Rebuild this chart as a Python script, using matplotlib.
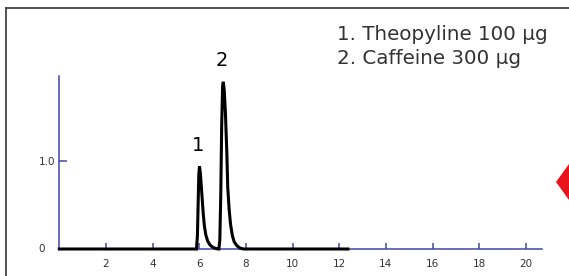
import matplotlib
matplotlib.use("Agg")
import matplotlib.pyplot as plt
from matplotlib.lines import Line2D
from matplotlib.patches import Polygon

# Chromatogram trace (time in min, response)
time = [0.0, 5.88, 5.92, 5.95, 5.98, 6.01, 6.05, 6.09, 6.13, 6.17, 6.22, 6.28,
        6.36, 6.45, 6.55, 6.68, 6.80,
        6.84, 6.88, 6.92, 6.96, 7.00, 7.03, 7.07, 7.12, 7.18, 7.22, 7.28, 7.34,
        7.42, 7.50, 7.62, 7.75, 7.90, 12.37]
signal = [0.0, 0.0, 0.15, 0.50, 0.85, 0.94, 0.85, 0.70, 0.55, 0.40, 0.26, 0.16,
          0.09, 0.05, 0.025, 0.008, 0.0,
          0.0, 0.10, 0.60, 1.40, 1.85, 1.90, 1.80, 1.55, 1.10, 0.70, 0.45, 0.28,
          0.15, 0.08, 0.035, 0.01, 0.0, 0.0]

peak_labels = ["1", "2"]
peak_times = [6.0, 7.03]
peak_heights = [0.94, 1.90]

legend_lines = ["1. Theopyline 100 µg", "2. Caffeine 300 µg"]

xticks = [2, 4, 6, 8, 10, 12, 14, 16, 18, 20]
xticklabels = [str(v) for v in xticks]
yticks = [1.0]
yticklabels = ["1.0"]

W, H = 569, 276
fig = plt.figure(figsize=(W / 100, H / 100), dpi=100)
fig.patch.set_facecolor("white")

axis_blue = "#3f46a6"
ax = fig.add_axes([59.3 / W, (H - 249) / H, 482.4 / W, 173 / H])
ax.plot(time, signal, color="black", lw=2.2, clip_on=False, zorder=5,
        solid_joinstyle="miter")
ax.set_xlim(0, 482.4 / 23.33)
ax.set_ylim(0, 173 / 88)

for s in ["top", "right"]:
    ax.spines[s].set_visible(False)
for s in ["left", "bottom"]:
    ax.spines[s].set_color(axis_blue)
    ax.spines[s].set_linewidth(1.1)

ax.set_xticks(xticks)
ax.set_xticklabels(xticklabels)
ax.set_yticks(yticks)
ax.set_yticklabels(yticklabels)
ax.tick_params(axis="x", direction="in", length=4, width=1.1, color=axis_blue,
               labelsize=7.5, labelcolor="#333333", pad=7)
ax.tick_params(axis="y", direction="in", length=6, width=1.1, color=axis_blue,
               labelsize=7.5, labelcolor="#333333", pad=3)
ax.text(-14 / 23.33, 0, "0", ha="right", va="center", fontsize=7.5,
        color="#333333", clip_on=False)

for lab, t, h in zip(peak_labels, peak_times, peak_heights):
    ax.annotate(lab, (t, h), xytext=(-1, 15), textcoords="offset points",
                ha="center", va="center", fontsize=14, color="black")

fig.text(337 / W, 1 - 34 / H, legend_lines[0], ha="left", va="center",
         fontsize=14.3, color="#333333")
fig.text(337 / W, 1 - 58 / H, legend_lines[1], ha="left", va="center",
         fontsize=14.3, color="#333333")

# Outer frame (left and top edges)
fig.add_artist(Line2D([6 / W, 6 / W], [0, 1 - 8 / H], transform=fig.transFigure,
                      color="#444444", lw=1.3))
fig.add_artist(Line2D([6 / W, 1], [1 - 8 / H, 1 - 8 / H], transform=fig.transFigure,
                      color="#444444", lw=1.3))

# Red marker on the right edge
fig.add_artist(Polygon([(556 / W, 1 - 182 / H), (569 / W, 1 - 164 / H),
                        (569 / W, 1 - 200 / H)], closed=True,
                       transform=fig.transFigure, color="#e8141c", lw=0))

fig.savefig("out.png", dpi=100)
